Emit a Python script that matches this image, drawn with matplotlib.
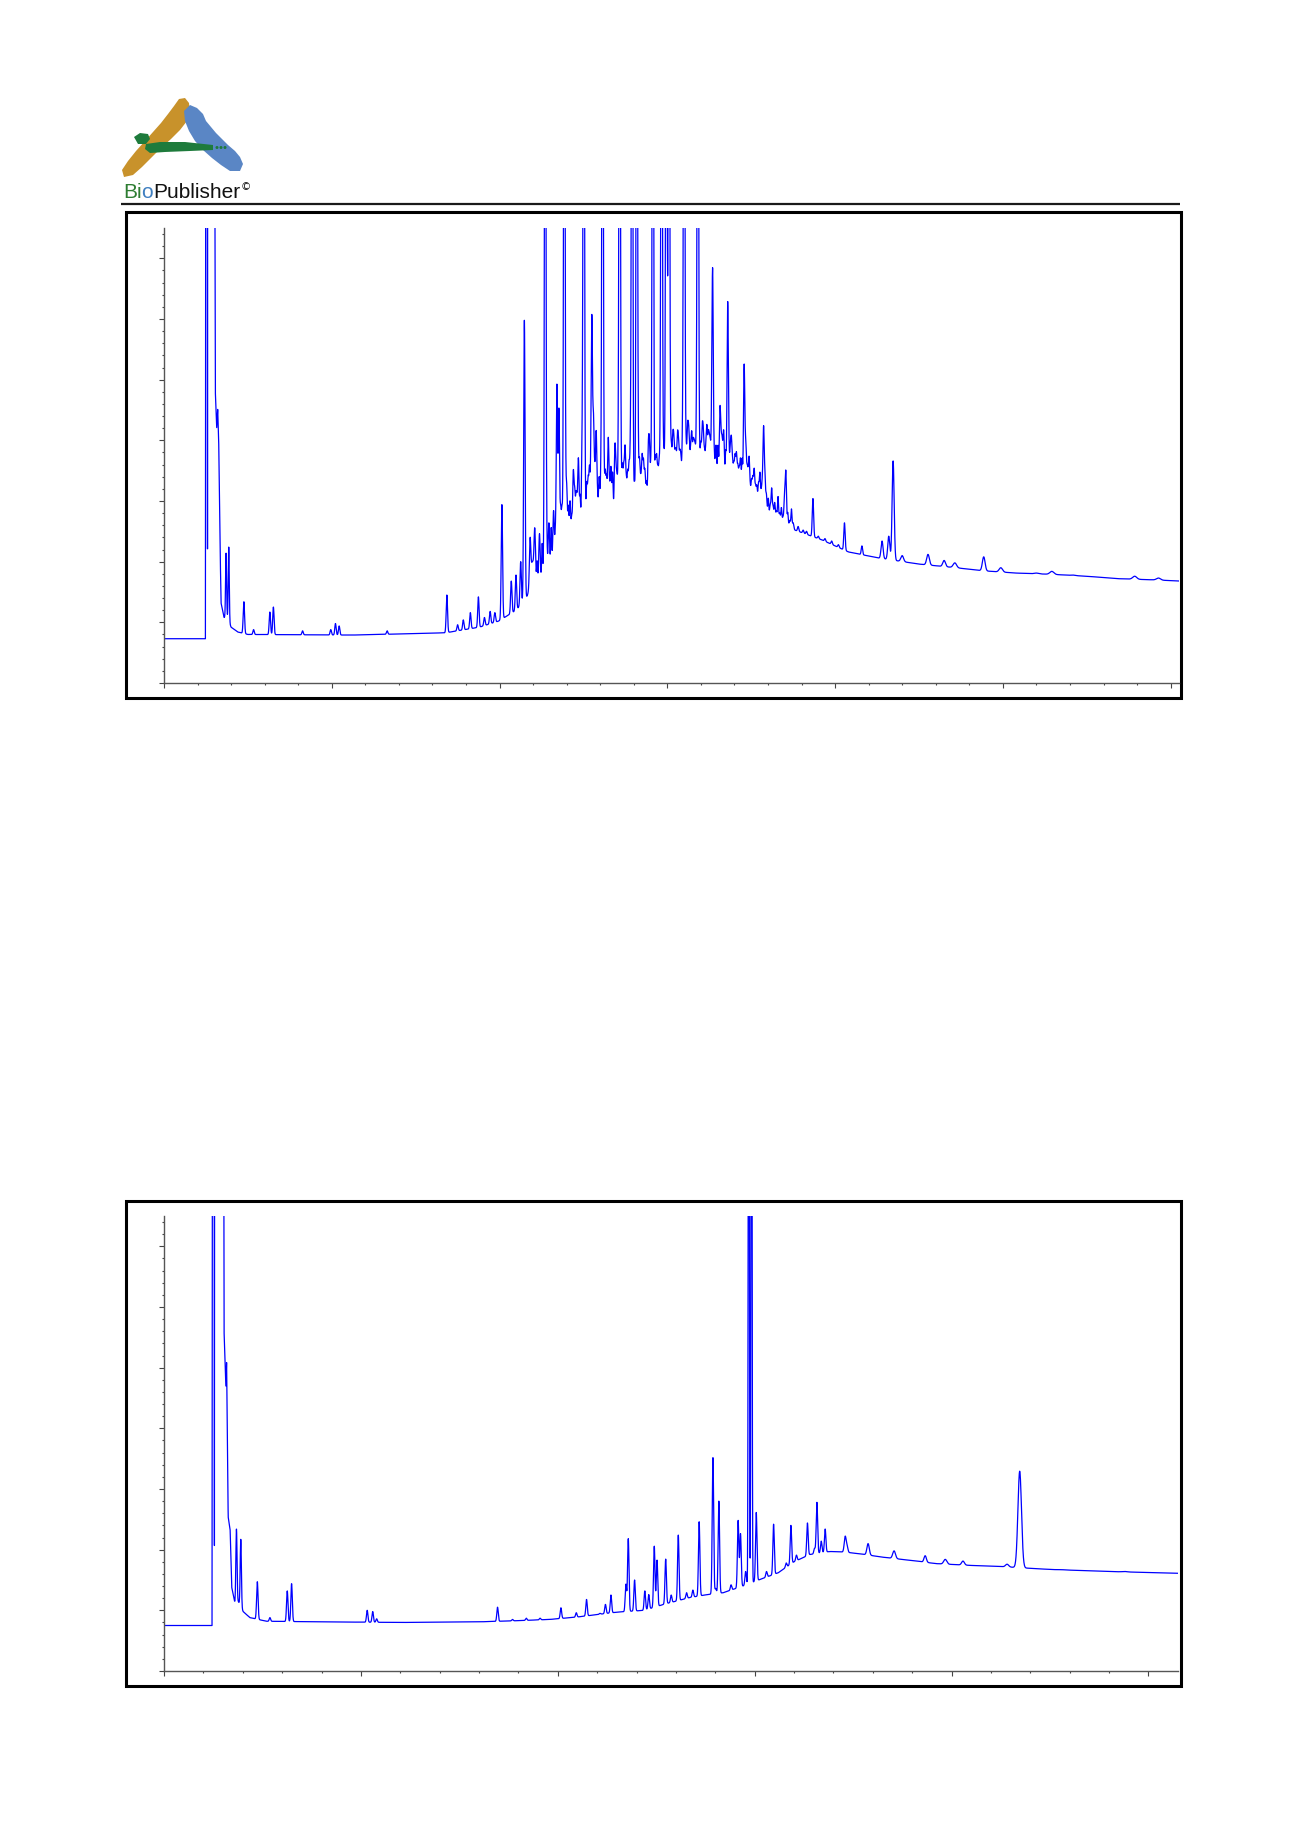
import numpy as np
import matplotlib
matplotlib.use("Agg")
import matplotlib.pyplot as plt
from matplotlib.patches import Polygon, Rectangle, Circle
from matplotlib.ticker import MultipleLocator

# ---------------- data: top chromatogram ----------------
top_xmax = 30.25
top_base_x = [0, 1.235, 1.245, 1.29, 1.296, 1.302, 1.50, 1.53, 1.57, 1.60, 1.63, 1.67, 1.70, 1.79,
              1.88, 2.0, 2.2, 2.5, 5.6, 7.0, 8.4, 9.4, 9.97, 10.5, 10.85, 11.2, 11.7, 12.2, 12.9,
              13.6, 14.3, 15.0, 15.7, 16.4, 17.0, 17.5, 18.1, 18.8, 19.6, 20.4, 21.3, 22.5, 23.6,
              24.4, 25.4, 26.5, 27.5, 28.4, 29.5, 30.3]
top_base_y = [3.65, 3.65, 60, 60, 6.4, 60, 60, 24, 21, 22.6, 20, 11.5, 6.6, 5.4,
              5.4, 4.6, 4.2, 4.0, 3.95, 4.04, 4.14, 4.6, 5.1, 6.0, 7.2, 8.5, 10.5, 12.0, 13.6,
              14.2, 14.8, 16.3, 16.9, 17.0, 16.1, 15.0, 13.6, 12.6, 11.8, 10.8, 10.3, 9.8, 9.5,
              9.25, 9.06, 8.95, 8.8, 8.6, 8.5, 8.4]
top_rt = [1.85, 1.93, 2.38, 2.67, 3.155, 3.26, 4.13, 4.97, 5.11, 5.22, 6.65,
          8.43, 8.75, 8.92, 9.13, 9.37, 9.55, 9.72, 9.86, 10.07, 10.35, 10.49, 10.63, 10.74,
          10.91, 11.05, 11.19, 11.36, 11.47, 11.61, 11.71, 11.77, 11.86, 11.93, 12.00, 12.10,
          12.20, 12.28, 12.35, 12.46, 12.51, 12.60, 12.68, 12.75, 12.80, 12.88, 12.97, 13.07,
          13.15, 13.24, 13.32, 13.44, 13.50, 13.58, 13.66, 13.74, 13.82, 13.90, 13.95, 14.09,
          14.17, 14.25, 14.33, 14.44, 14.51, 14.57, 14.68, 14.76, 14.83, 14.90, 14.97, 15.05,
          15.12, 15.19, 15.26, 15.33, 15.40, 15.50, 15.56, 15.63, 15.70, 15.77, 15.83, 15.91,
          16.00, 16.07, 16.15, 16.22, 16.28, 16.35, 16.45, 16.57, 16.63, 16.68, 16.80, 16.88,
          16.94, 17.02, 17.10, 17.18, 17.29, 17.34, 17.41, 17.47, 17.55, 17.63, 17.72, 17.80,
          17.87, 17.95, 18.07, 18.15, 18.25, 18.35, 18.45, 18.53, 18.65, 18.75, 18.90, 19.05,
          19.15, 19.34, 19.50, 19.70, 19.90, 20.10, 20.28, 20.80, 21.40, 21.60, 21.73, 22.00,
          22.77, 23.25, 23.57, 24.43, 24.94, 26.00, 26.46, 27.08, 28.93, 29.64]
top_apex = [10.7, 11.2, 6.7, 4.4, 5.85, 6.26, 4.3, 4.4, 4.9, 4.7, 4.3,
            7.25, 4.8, 5.2, 5.8, 7.1, 5.4, 5.9, 5.8, 14.7, 8.4, 8.9, 10.0, 29.9,
            10.8, 11.6, 12.3, 70, 13.2, 14.2, 24.5, 22.5, 14.5, 70, 16.2, 15.0,
            17.5, 15.5, 18.5, 18.9, 70, 16.5, 17.8, 29.8, 21.5, 20.7, 17.0, 70,
            17.5, 20.2, 17.8, 19.5, 17.0, 70, 18.0, 19.5, 17.5, 19.2, 70, 70,
            18.5, 18.8, 17.6, 19.9, 18.0, 70, 18.8, 18.4, 70, 19.0, 70, 70,
            19.5, 20.3, 19.0, 20.0, 18.8, 70, 19.5, 20.9, 19.5, 19.9, 19.5, 70,
            19.8, 20.8, 19.5, 20.5, 19.8, 33.9, 19.6, 22.6, 20.0, 20.7, 31.4, 19.5,
            18.4, 18.8, 18.0, 18.5, 26.1, 19.5, 17.3, 16.2, 17.0, 16.3, 16.5, 15.8,
            21.1, 15.6, 14.7, 14.6, 14.2, 14.0, 13.7, 17.5, 13.4, 13.2, 12.9, 12.6,
            12.5, 15.2, 12.1, 11.9, 11.7, 11.4, 13.2, 11.3, 11.7, 12.1, 18.3, 10.5,
            10.6, 10.1, 9.9, 10.4, 9.5, 9.06, 9.2, 8.9, 8.8, 8.65]
top_sigma = [0.015, 0.015] + [0.02] * 126 + [0.03, 0.03, 0.03, 0.04, 0.04,
             0.04, 0.05, 0.04, 0.05, 0.06, 0.06, 0.05, 0.06, 0.06, 0.06]

# small "grass" peaks on the hump of the top trace
grass_rt = [10.98, 11.12, 11.27, 11.41, 11.54, 11.66, 11.82, 11.97, 12.05, 12.15, 12.24, 12.31,
            12.40, 12.55, 12.64, 12.72, 12.84, 12.92, 13.02, 13.11, 13.19, 13.28, 13.37, 13.47,
            13.54, 13.62, 13.70, 13.78, 13.86, 14.02, 14.13, 14.21, 14.29, 14.38, 14.47, 14.54,
            14.64, 14.72, 14.80, 14.87, 15.01, 15.09, 15.16, 15.23, 15.30, 15.37, 15.45, 15.53,
            15.60, 15.66, 15.73, 15.80, 15.87, 15.96, 16.04, 16.11, 16.18, 16.25, 16.32, 16.40,
            16.51, 16.60, 16.74, 16.84, 16.91, 16.98, 17.06, 17.14, 17.23, 17.38, 17.44, 17.51,
            17.59, 17.67, 17.76, 17.83, 17.91, 18.01, 18.11, 18.20, 18.30, 18.40, 18.49, 18.59,
            18.70]
grass_apex = [10.0, 9.9, 11.5, 11.0, 12.8, 12.0, 13.8, 12.8, 14.3, 13.5, 15.0, 13.8,
              15.2, 14.4, 16.0, 14.8, 16.2, 15.0, 16.8, 15.5, 16.4, 15.4, 17.2, 15.6,
              16.8, 15.9, 17.0, 16.0, 17.3, 16.4, 17.5, 16.2, 17.6, 16.5, 18.0, 16.8,
              18.2, 17.2, 18.8, 17.5, 19.0, 17.8, 18.9, 18.0, 19.2, 18.1, 19.3, 18.2,
              19.6, 18.3, 19.5, 18.3, 19.4, 18.4, 19.7, 18.5, 20.0, 18.6, 19.2, 18.5,
              19.5, 18.2, 19.0, 17.8, 18.6, 17.6, 18.4, 17.2, 18.3, 16.8, 17.6, 16.4,
              17.2, 16.0, 16.9, 15.6, 16.3, 15.2, 15.8, 14.8, 15.3, 14.4, 14.9, 14.0,
              14.3]
grass_sigma = [0.015] * 85

# ---------------- data: bottom chromatogram ----------------
bot_xmax = 25.75
bot_base_x = [0, 1.22, 1.232, 1.275, 1.28, 1.285, 1.51, 1.525, 1.55, 1.57, 1.59, 1.615, 1.63,
              1.68, 1.72, 1.80, 1.89, 2.01, 2.18, 2.6, 4.0, 6.0, 8.0, 9.0, 9.8, 10.5, 11.5,
              12.2, 12.7, 13.35, 13.8, 14.2, 14.7, 15.1, 15.6, 16.0, 16.4, 16.9, 17.3, 17.8,
              18.2, 19.0, 19.6, 20.5, 21.3, 21.8, 22.5, 24.0, 25.8]
bot_base_y = [3.75, 3.75, 60, 60, 7.9, 60, 60, 28, 25.5, 23.4, 25.5, 16.8, 12.7,
              11.6, 6.9, 5.6, 5.7, 4.9, 4.4, 4.1, 4.05, 4.0, 4.05, 4.15, 4.25, 4.45, 4.85,
              5.0, 5.5, 6.05, 6.3, 6.45, 7.0, 7.5, 8.1, 9.0, 9.6, 9.85, 9.8, 9.6,
              9.4, 9.1, 8.85, 8.7, 8.6, 8.5, 8.37, 8.2, 8.05]
bot_rt = [1.84, 1.95, 2.37, 2.69, 3.13, 3.24, 5.16, 5.30, 5.40, 8.47, 8.85, 9.20, 9.55,
          10.08, 10.47, 10.73, 11.07, 11.21, 11.35, 11.73, 11.79, 11.95, 12.21, 12.31, 12.45,
          12.52, 12.74, 12.88, 13.06, 13.27, 13.43, 13.59, 13.94, 14.01, 14.09, 14.40, 14.58,
          14.64, 14.77, 14.85, 14.92, 15.04, 15.30, 15.48, 15.80, 15.92, 16.06, 16.34, 16.52,
          16.58, 16.69, 16.79, 17.30, 17.35, 17.88, 18.54, 19.33, 19.84, 20.29, 21.41, 21.73,
          22.80, 24.40]
bot_apex = [11.7, 10.85, 7.36, 4.4, 6.6, 7.2, 5.0, 4.9, 4.3, 5.26, 4.25, 4.35, 4.35,
            5.21, 4.8, 5.9, 4.75, 5.49, 6.26, 7.14, 10.9, 7.5, 6.6, 6.3, 10.29,
            9.14, 9.22, 6.26, 11.2, 6.45, 6.67, 12.3, 17.6, 6.8, 14.0, 7.1, 12.4,
            11.3, 8.2, 80, 80, 13.07, 8.2, 12.1, 8.9, 12.0, 9.55, 12.2, 10.1,
            13.9, 10.7, 11.7, 11.1, 10.2, 10.5, 9.9, 9.5, 9.2, 9.06, 8.8, 16.47,
            8.35, 8.2]
bot_sigma = [0.015, 0.015] + [0.018] * 37 + [0.012, 0.012] + [0.018] * 11 + \
            [0.025, 0.02, 0.03, 0.035, 0.03, 0.04, 0.035, 0.04, 0.045, 0.06, 0.06]

brand_parts = ["Bi", "o", "Publisher"]
brand_colors = ["#2E7D32", "#3F7FC0", "#111111"]


def trace(xmax, bx, by, rts, aps, sigs):
    x = np.linspace(0, xmax, 14000)
    y = np.interp(x, bx, by)
    for rt, ap, s in zip(rts, aps, sigs):
        amp = ap - np.interp(rt, bx, by)
        y = y + amp * np.exp(-0.5 * ((x - rt) / s) ** 2)
    return x, y


fig = plt.figure(figsize=(13, 18.39), dpi=100)

# overlay in pixel coordinates for page decorations
ov = fig.add_axes([0, 0, 1, 1], zorder=0)
ov.set_xlim(0, 1300)
ov.set_ylim(1839, 0)
ov.axis("off")

ov.plot([121, 1180], [204, 204], color="#1a1a1a", lw=1.6, solid_capstyle="butt")
ov.add_patch(Rectangle((126, 212), 1055, 486, fill=False, lw=2.2, ec="black"))
ov.add_patch(Rectangle((126, 1201), 1055, 485, fill=False, lw=2.2, ec="black"))

# logo
gold = [(122, 170), (128, 161), (136, 151), (145, 141), (153, 132), (161, 123), (168, 114),
        (174, 106), (179, 99), (185, 98), (189, 103), (190, 112), (187, 121), (180, 130),
        (171, 139), (161, 148), (151, 158), (142, 167), (133, 175), (124, 177)]
blue = [(190, 105), (197, 108), (203, 114), (206, 121), (211, 127), (216, 133), (222, 139),
        (228, 145), (235, 151), (240, 157), (243, 164), (240, 171), (230, 171), (221, 165),
        (212, 158), (203, 150), (195, 141), (189, 131), (185, 121), (184, 111)]
green_blob = [(134, 137), (140, 133), (148, 134), (150, 139), (146, 144), (138, 144)]
green_bar = [(146, 144), (160, 142), (185, 142), (213, 145), (213, 150), (190, 151),
             (165, 152), (150, 153), (145, 149)]
ov.add_patch(Polygon(gold, closed=True, fc="#C8922B", ec="none"))
ov.add_patch(Polygon(blue, closed=True, fc="#5A86C5", ec="none"))
ov.add_patch(Polygon(green_blob, closed=True, fc="#1E7B3C", ec="none"))
ov.add_patch(Polygon(green_bar, closed=True, fc="#1E7B3C", ec="none"))
for cx in (217, 221, 225):
    ov.add_patch(Circle((cx, 147.5), 1.5, fc="#1E7B3C", ec="none"))

prev = ov.text(123, 198, brand_parts[0], color=brand_colors[0], fontsize=15,
               family="Liberation Sans", va="baseline", ha="left")
for part, col in zip(brand_parts[1:], brand_colors[1:]):
    prev = ov.annotate(part, xy=(1, 0), xycoords=prev, va="bottom", ha="left",
                       color=col, fontsize=15, family="Liberation Sans")
ov.annotate("\u00a9", xy=(1, 1), xycoords=prev, va="top", ha="left", fontsize=7.5,
            family="DejaVu Sans", color="#111111", xytext=(0.5, 1), textcoords="offset points")


def style(ax, xmax):
    ax.set_xlim(0, xmax)
    ax.set_ylim(0, 37.5)
    for s in ("top", "right"):
        ax.spines[s].set_visible(False)
    for s in ("left", "bottom"):
        ax.spines[s].set_color("#555555")
        ax.spines[s].set_linewidth(1.0)
    ax.xaxis.set_major_locator(MultipleLocator(5))
    ax.xaxis.set_minor_locator(MultipleLocator(1))
    ax.yaxis.set_major_locator(MultipleLocator(5))
    ax.yaxis.set_minor_locator(MultipleLocator(1))
    ax.tick_params(which="major", direction="out", length=3.3, width=0.8, color="#444444",
                   labelbottom=False, labelleft=False)
    ax.tick_params(which="minor", direction="out", length=1.7, width=0.8, color="#444444")
    ax.patch.set_visible(False)


W = 1300.0
H = 1839.0
ax1 = fig.add_axes([164 / W, 1 - 683 / H, (1179 - 164) / W, (683 - 228) / H], zorder=2)
x1, y1 = trace(top_xmax, top_base_x, top_base_y,
               top_rt + grass_rt, top_apex + grass_apex, top_sigma + grass_sigma)
ax1.plot(x1, y1, color="#0000FF", lw=0.9)
style(ax1, top_xmax)

ax2 = fig.add_axes([164 / W, 1 - 1671 / H, (1178 - 164) / W, (1671 - 1216) / H], zorder=2)
x2, y2 = trace(bot_xmax, bot_base_x, bot_base_y, bot_rt, bot_apex, bot_sigma)
ax2.plot(x2, y2, color="#0000FF", lw=0.9)
style(ax2, bot_xmax)

fig.savefig("out.png", dpi=100)
